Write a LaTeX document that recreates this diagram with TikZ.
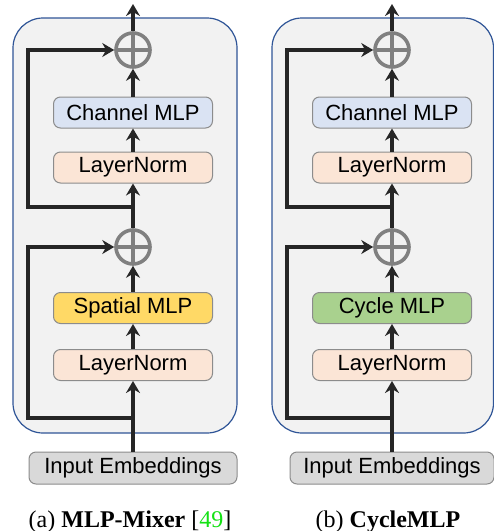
\documentclass[tikz,border=0pt]{standalone}
\usepackage{fontspec}
\setmainfont{Liberation Serif}
\setsansfont{Liberation Sans}
\usetikzlibrary{arrows.meta}

\definecolor{panelfill}{HTML}{F2F2F2}
\definecolor{panelline}{HTML}{2F5597}
\definecolor{boxline}{HTML}{8C8C8C}
\definecolor{chanfill}{HTML}{DAE3F3}
\definecolor{normfill}{HTML}{FBE5D6}
\definecolor{spatfill}{HTML}{FFD966}
\definecolor{cycfill}{HTML}{A9D18E}
\definecolor{embfill}{HTML}{D9D9D9}
\definecolor{plusgray}{HTML}{808080}
\definecolor{arrowdark}{HTML}{262626}
\definecolor{citegreen}{RGB}{20,225,20}

\tikzset{
  panel/.style={draw=panelline, fill=panelfill, line width=1.2pt, rounded corners=30pt},
  block/.style={draw=boxline, line width=1pt, rounded corners=7pt, minimum width=159pt,
    minimum height=31pt, inner sep=0pt, font=\sffamily\fontsize{22}{24}\selectfont},
  embbox/.style={block, fill=embfill, minimum height=32pt},
  oplus/.style={circle, draw=plusgray, line width=3.6pt, minimum size=34pt, inner sep=0pt,
    path picture={\draw[plusgray, line width=3.6pt]
      (path picture bounding box.north) -- (path picture bounding box.south)
      (path picture bounding box.west) -- (path picture bounding box.east);}},
  arr/.style={draw=arrowdark, line width=3.2pt, -{Stealth[length=12pt,width=14pt,inset=4pt]}},
  caption/.style={font=\fontsize{24}{28}\selectfont, anchor=base}
}

\begin{document}
\begin{tikzpicture}[x=1pt,y=-1pt]
  \useasboundingbox (0,0) rectangle (494,531);

  % left panel: MLP-Mixer
  \draw[panel] (13,18) rectangle (237,433);
  \node[oplus] (pa1) at (133,50) {};
  \node[block, fill=chanfill] (cha) at (133,112.5) {Channel MLP};
  \node[block, fill=normfill] (lna1) at (133,167.5) {LayerNorm};
  \node[oplus] (pa2) at (133,247) {};
  \node[block, fill=spatfill] (spa) at (133,308) {Spatial MLP};
  \node[block, fill=normfill] (lna2) at (133,365) {LayerNorm};
  \node[embbox, minimum width=208pt] (emba) at (133,468) {Input Embeddings};
  \coordinate (outa) at (133,4);
  \coordinate (sa1) at (133,207);
  \coordinate (sa2) at (133,418);

  \draw[arr] (pa1.north) -- (outa);
  \draw[arr] (cha.north) -- (pa1.south);
  \draw[arr] (lna1.north) -- (cha.south);
  \draw[arr] (pa2.north) -- (lna1.south);
  \draw[arr] (spa.north) -- (pa2.south);
  \draw[arr] (lna2.north) -- (spa.south);
  \draw[arr] (emba.north) -- (lna2.south);
  % skip connections
  \draw[arr] (sa1) -- ++(-105,0) |- (pa1.west);
  \draw[arr] (sa2) -- ++(-105,0) |- (pa2.west);

  \node[caption] (capa) at (130,527) {(a) \textbf{MLP-Mixer} [{\color{citegreen}49}]};

  % right panel: CycleMLP
  \draw[panel] (272,18) rectangle (493.5,433);
  \node[oplus] (pb1) at (392,50) {};
  \node[block, fill=chanfill] (chb) at (392,112.5) {Channel MLP};
  \node[block, fill=normfill] (lnb1) at (392,167.5) {LayerNorm};
  \node[oplus] (pb2) at (392,247) {};
  \node[block, fill=cycfill] (cyb) at (392,308) {Cycle MLP};
  \node[block, fill=normfill] (lnb2) at (392,365) {LayerNorm};
  \node[embbox, minimum width=204pt] (embb) at (392,468) {Input Embeddings};
  \coordinate (outb) at (392,4);
  \coordinate (sb1) at (392,207);
  \coordinate (sb2) at (392,418);

  \draw[arr] (pb1.north) -- (outb);
  \draw[arr] (chb.north) -- (pb1.south);
  \draw[arr] (lnb1.north) -- (chb.south);
  \draw[arr] (pb2.north) -- (lnb1.south);
  \draw[arr] (cyb.north) -- (pb2.south);
  \draw[arr] (lnb2.north) -- (cyb.south);
  \draw[arr] (embb.north) -- (lnb2.south);
  % skip connections
  \draw[arr] (sb1) -- ++(-105,0) |- (pb1.west);
  \draw[arr] (sb2) -- ++(-105,0) |- (pb2.west);

  \node[caption] (capb) at (388,527) {(b) \textbf{CycleMLP}};
\end{tikzpicture}
\end{document}
